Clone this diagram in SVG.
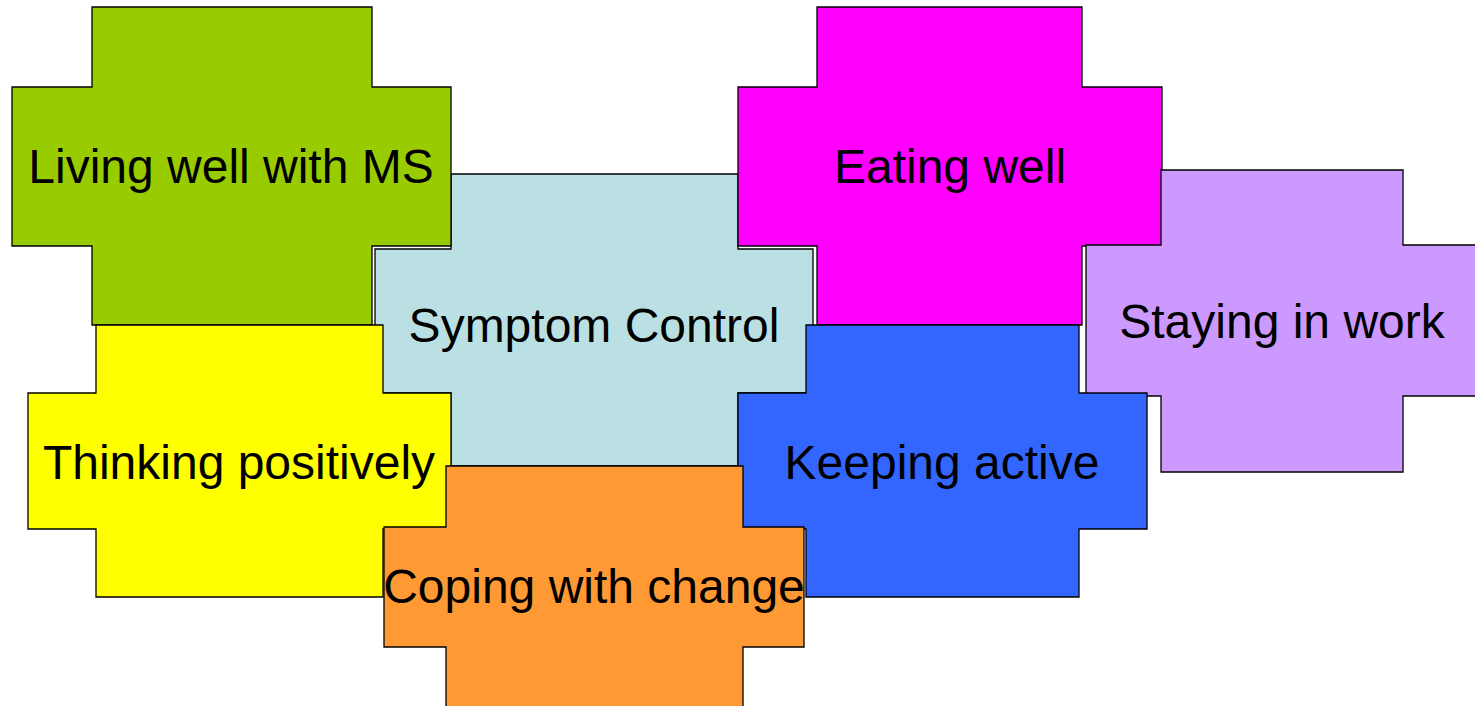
<svg xmlns="http://www.w3.org/2000/svg" width="1475" height="706" viewBox="0 0 1475 706">
<style>
.p{stroke:#000;stroke-width:1.3;stroke-linejoin:miter}
.t{font-family:"Liberation Sans",Arial,sans-serif;font-size:48px;fill:#000;text-anchor:middle}
</style>
<rect width="1475" height="706" fill="#fff"/>
<g id="connectors"></g>
<g id="symptom-control">
<polygon class="p" fill="#BBE0E3" points="451,174 738,174 738,249 813,249 813,393 738,393 738,466 451,466 451,393 375,393 375,249 451,249"/>
<text class="t" x="594" y="342">Symptom Control</text>
</g>
<g id="living-well">
<polygon class="p" fill="#99CC00" points="92,7 372,7 372,87 451,87 451,246 372,246 372,325 92,325 92,246 12,246 12,87 92,87"/>
<text class="t" x="231" y="183">Living well with MS</text>
</g>
<g id="eating-well">
<polygon class="p" fill="#FF00FF" points="817,7 1082,7 1082,87 1162,87 1162,246 1082,246 1082,325 817,325 817,246 738,246 738,87 817,87"/>
<text class="t" x="950" y="183">Eating well</text>
</g>
<g id="staying-in-work">
<polygon class="p" fill="#CC99FF" points="1161,170 1403,170 1403,245 1478,245 1478,396 1403,396 1403,472 1161,472 1161,396 1086,396 1086,245 1161,245"/>
<text class="t" x="1282" y="338">Staying in work</text>
</g>
<g id="keeping-active">
<polygon class="p" fill="#3366FF" points="806,325 1079,325 1079,393 1147,393 1147,529 1079,529 1079,597 806,597 806,529 738,529 738,393 806,393"/>
<text class="t" x="942" y="479">Keeping active</text>
</g>
<g id="thinking-positively">
<polygon class="p" fill="#FFFF00" points="96,325 383,325 383,393 451,393 451,529 383,529 383,597 96,597 96,529 28,529 28,393 96,393"/>
<text class="t" x="239" y="479">Thinking positively</text>
</g>
<g id="coping-with-change">
<polygon class="p" fill="#FF9933" points="446,466 743,466 743,527 804,527 804,647 743,647 743,708 446,708 446,647 384,647 384,527 446,527"/>
<text class="t" x="594" y="603">Coping with change</text>
</g>
</svg>
